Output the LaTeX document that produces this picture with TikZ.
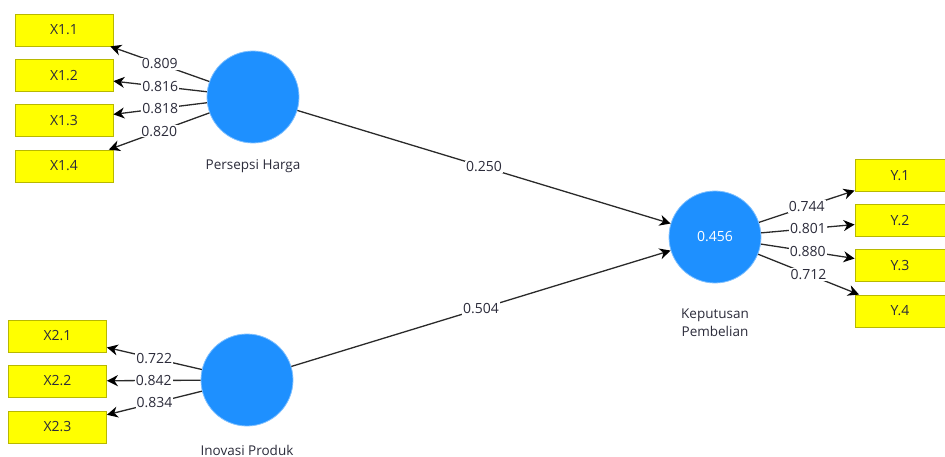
\documentclass[tikz,border=0pt]{standalone}
\usepackage{fontspec}
\setmainfont{Open Sans}
\usetikzlibrary{arrows.meta}
\definecolor{lvblue}{HTML}{1E90FF}
\definecolor{lvedge}{HTML}{7FC0FF}
\definecolor{indfill}{HTML}{FFFF00}
\definecolor{inddraw}{HTML}{B8B800}
\definecolor{linegray}{HTML}{2A2A2A}
\definecolor{txtgray}{HTML}{2B2B3A}
\begin{document}
\begin{tikzpicture}[x=1pt,y=-1pt,
  ind/.style={draw=inddraw,fill=indfill,line width=0.8pt,minimum width=98pt,minimum height=32pt,inner sep=0pt,font=\fontsize{14}{16}\selectfont,text=txtgray},
  lv/.style={circle,draw=lvedge,fill=lvblue,line width=0.8pt,minimum size=92pt,inner sep=0pt,font=\fontsize{14}{16}\selectfont,text=white},
  lvlabel/.style={font=\fontsize{13.5}{18}\selectfont,text=txtgray,align=center},
  conn/.style={draw=linegray,line width=1.3pt,-{Stealth[length=11pt,width=11pt,inset=3.5pt,color=black]}},
  wlab/.style={fill=white,inner sep=1pt,font=\fontsize{14}{16}\selectfont,text=txtgray}
]
\useasboundingbox (0,0) rectangle (945,457);
% latent variables
\node[lv] (ph) at (253,97) {};
\node[lv] (ip) at (247,380) {};
\node[lv] (kp) at (715,237) {0.456};
\node[lvlabel] (phl) at (253,166) {Persepsi Harga};
\node[lvlabel] (ipl) at (247,450) {Inovasi Produk};
\node[lvlabel] (kpl) at (715,323) {Keputusan\\Pembelian};
% indicators
\node[ind] (x11) at (64,30) {X1.1};
\node[ind] (x12) at (64,75.5) {X1.2};
\node[ind] (x13) at (64,120.5) {X1.3};
\node[ind] (x14) at (64,166) {X1.4};
\node[ind] (x21) at (57.5,336) {X2.1};
\node[ind] (x22) at (57.5,381) {X2.2};
\node[ind] (x23) at (57.5,427) {X2.3};
\node[ind,minimum width=90pt] (y1) at (900,175.5) {Y.1};
\node[ind,minimum width=90pt] (y2) at (900,220.5) {Y.2};
\node[ind,minimum width=90pt] (y3) at (900,265.5) {Y.3};
\node[ind,minimum width=90pt] (y4) at (900,311) {Y.4};
% outer loadings
\draw[conn] (ph) -- node[wlab] {0.809} (x11);
\draw[conn] (ph) -- node[wlab] {0.816} (x12);
\draw[conn] (ph) -- node[wlab] {0.818} (x13);
\draw[conn] (ph) -- node[wlab] {0.820} (x14);
\draw[conn] (ip) -- node[wlab] {0.722} (x21);
\draw[conn] (ip) -- node[wlab] {0.842} (x22);
\draw[conn] (ip) -- node[wlab] {0.834} (x23);
\draw[conn] (kp) -- node[wlab] {0.744} (y1);
\draw[conn] (kp) -- node[wlab] {0.801} (y2);
\draw[conn] (kp) -- node[wlab] {0.880} (y3);
\draw[conn] (kp) -- node[wlab] {0.712} (y4);
% path coefficients
\draw[conn] (ph) -- node[wlab] {0.250} (kp);
\draw[conn] (ip) -- node[wlab] {0.504} (kp);
\end{tikzpicture}
\end{document}
